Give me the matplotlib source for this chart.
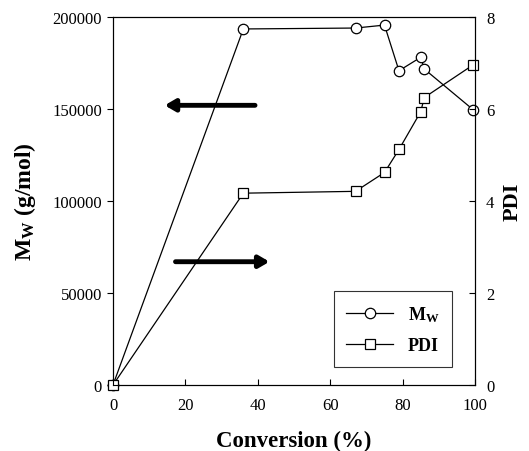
import matplotlib
matplotlib.use("Agg")
import matplotlib.pyplot as plt

conversion = [0, 36, 67, 75, 79, 85, 86, 99.5]
mw = [0, 193500, 194000, 195600, 170800, 178100, 171700, 149600]
pdi = [0, 4.17, 4.21, 4.62, 5.12, 5.94, 6.25, 6.96]

plt.rcParams['font.family'] = ['Liberation Serif', 'DejaVu Serif']
plt.rcParams['mathtext.fontset'] = 'custom'
plt.rcParams['mathtext.rm'] = 'Liberation Serif'
plt.rcParams['mathtext.bf'] = 'Liberation Serif:bold'

fig = plt.figure(figsize=(5.29, 4.52), dpi=100)
ax = fig.add_axes([113/529, 1-386/452, (475-113)/529, (386-18)/452])
ax2 = ax.twinx()

l1, = ax.plot(conversion, mw, color='black', lw=0.9, marker='o', ms=7.5,
              mfc='white', mec='black', mew=0.9, label=r'$\mathbf{M_W}$')
l2, = ax2.plot(conversion, pdi, color='black', lw=0.9, marker='s', ms=7,
               mfc='white', mec='black', mew=0.9, label='PDI')

ax.set_xlim(0, 100)
ax.set_ylim(0, 200000)
ax2.set_ylim(0, 8)
ax.set_xticks([0, 20, 40, 60, 80, 100])
ax.set_yticks([0, 50000, 100000, 150000, 200000])
ax2.set_yticks([0, 2, 4, 6, 8])
for a in (ax, ax2):
    for s in a.spines.values():
        s.set_linewidth(0.8)
ax.tick_params(axis='x', direction='in', labelsize=12, length=4, pad=9)
ax.tick_params(axis='y', direction='out', labelsize=12, length=4, pad=4)
ax2.tick_params(axis='y', direction='in', labelsize=12, length=4, pad=8)
for ln in (l1, l2):
    ln.set_clip_on(False)

ax.set_xlabel('Conversion (%)', fontsize=16.5, fontweight='bold', labelpad=12)
ax.set_ylabel(r'$\mathbf{M_W}$ (g/mol)', fontsize=17, fontweight='bold', labelpad=10)
ax2.set_ylabel('PDI', fontsize=16, fontweight='bold', labelpad=6)

ax.annotate('', xy=(13.5, 152000), xytext=(40, 152000),
            arrowprops=dict(arrowstyle='-|>,head_length=0.6,head_width=0.35', lw=3.5, color='black'))
ax.annotate('', xy=(44, 67000), xytext=(16.5, 67000),
            arrowprops=dict(arrowstyle='-|>,head_length=0.6,head_width=0.35', lw=3.5, color='black'))

leg = ax2.legend(handles=[l1, l2], loc='lower right', bbox_to_anchor=(0.936, 0.049),
                 borderaxespad=0, fontsize=13, frameon=True, fancybox=False,
                 edgecolor='black', handlelength=2.6, borderpad=0.7, labelspacing=0.75)
leg.get_frame().set_linewidth(0.8)
for t in leg.get_texts():
    t.set_fontweight('bold')

fig.savefig('out.png', dpi=100)
